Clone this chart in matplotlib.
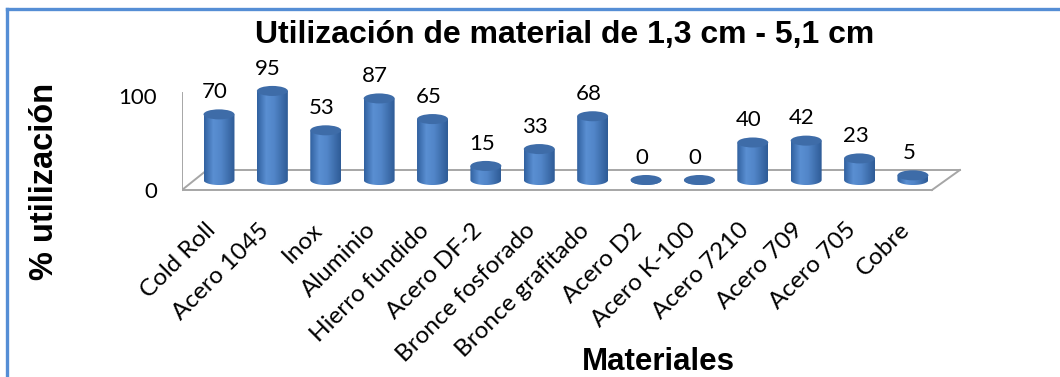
import matplotlib
matplotlib.use("Agg")
import numpy as np
import matplotlib.pyplot as plt
from matplotlib.patches import Ellipse, PathPatch
from matplotlib.path import Path
from matplotlib.colors import LinearSegmentedColormap
from matplotlib.lines import Line2D
import matplotlib.transforms as mtransforms

# ---- data -------------------------------------------------------------
materials = ["Cold Roll", "Acero 1045", "Inox", "Aluminio", "Hierro fundido",
             "Acero DF-2", "Bronce fosforado", "Bronce grafitado", "Acero D2",
             "Acero K-100", "Acero 7210", "Acero 709", "Acero 705", "Cobre"]
utilization = [70, 95, 53, 87, 65, 15, 33, 68, 0, 0, 40, 42, 23, 5]
y_tick_values = [0, 100]
y_tick_labels = ["0", "100"]

title = "Utilización de material de 1,3 cm - 5,1 cm"
x_title = "Materiales"
y_title = "% utilización"

# ---- styling / 3-D look ----------------------------------------------
W_PX, H_PX = 1060, 377
BAR_W = 0.58          # cylinder diameter (category units)
CAP_H = 10.7          # ellipse height of cylinder caps (value units)
DEPTH = 21.3          # floor depth in value units (vertical projection)
FLOOR_FRONT = (-0.693, 13.357)
FLOOR_BACK = (-0.225, 13.88)
GRID_GRAY = "#a6a6a6"
TOP_COLOR = "#3e6ca8"
body_cmap = LinearSegmentedColormap.from_list(
    "cyl", [(0.0, "#30609f"), (0.3, "#5a8fd2"), (0.55, "#5286c9"), (1.0, "#2e5b96")])

TEXT_FONT = ["Lato", "DejaVu Sans"]
BOLD_FONT = ["Liberation Sans", "DejaVu Sans"]
TEXT_SIZE = 16
CAT_SIZE = 17.5

fig = plt.figure(figsize=(W_PX / 100, H_PX / 100), dpi=100)
fig.patch.set_facecolor("white")

ax = fig.add_axes([182 / W_PX, 1 - 195 / H_PX, (993 - 182) / W_PX, 135 / H_PX])
ax.patch.set_visible(False)
for s in ax.spines.values():
    s.set_visible(False)

# floor outline and vertical axis line
fy, by = -DEPTH / 2, DEPTH / 2
ax.plot([FLOOR_FRONT[0], FLOOR_FRONT[1]], [fy, fy], color=GRID_GRAY, lw=1.4, zorder=1)
ax.plot([FLOOR_BACK[0], FLOOR_BACK[1]], [by, by], color=GRID_GRAY, lw=1.4, zorder=1)
ax.plot([FLOOR_FRONT[0], FLOOR_BACK[0]], [fy, by], color=GRID_GRAY, lw=1.4, zorder=1)
ax.plot([FLOOR_FRONT[1], FLOOR_BACK[1]], [fy, by], color=GRID_GRAY, lw=1.4, zorder=1)
ax.plot([FLOOR_FRONT[0], FLOOR_FRONT[0]], [fy, 100 - DEPTH / 2 + 3], color=GRID_GRAY,
        lw=1.4, zorder=1)

gradient = np.linspace(0, 1, 256).reshape(1, -1)
t = np.linspace(np.pi, 2 * np.pi, 60)

for i, v in enumerate(utilization):
    x = i
    # body outline: rectangle plus lower half of the base ellipse
    verts = [(x - BAR_W / 2, v)]
    verts += list(zip(x + BAR_W / 2 * np.cos(t), CAP_H / 2 * np.sin(t)))
    verts += [(x + BAR_W / 2, v), (x - BAR_W / 2, v)]
    codes = [Path.MOVETO] + [Path.LINETO] * (len(verts) - 2) + [Path.CLOSEPOLY]
    body = PathPatch(Path(verts, codes), facecolor="none", edgecolor="none", zorder=2)
    ax.add_patch(body)
    im = ax.imshow(gradient, extent=[x - BAR_W / 2, x + BAR_W / 2, -CAP_H / 2, max(v, 0.01)],
                   aspect="auto", cmap=body_cmap, zorder=2, interpolation="bilinear")
    im.set_clip_path(body)
    ax.add_patch(Ellipse((x, v), BAR_W, CAP_H, facecolor=TOP_COLOR, edgecolor="none",
                         zorder=3))
    ax.annotate(str(v), (x, v), xytext=(-3, 16), textcoords="offset points",
                ha="center", va="center", fontsize=TEXT_SIZE, family=TEXT_FONT, zorder=4)

ax.set_xlim(-0.693, 14.5)
ax.set_ylim(-16, 128)

ax.set_yticks([v - DEPTH / 2 for v in y_tick_values])
ax.set_yticklabels(y_tick_labels, fontsize=TEXT_SIZE, family=TEXT_FONT)
ax.tick_params(axis="y", length=0, pad=18)

ax.set_xticks(range(len(materials)))
ax.set_xticklabels(materials, fontsize=CAT_SIZE, family=TEXT_FONT)
ax.tick_params(axis="x", length=0, pad=20)
shift = mtransforms.ScaledTranslation(-7 / 100, -4 / 100, fig.dpi_scale_trans)
for lab in ax.get_xticklabels():
    lab.set_rotation(45)
    lab.set_ha("right")
    lab.set_va("center")
    lab.set_rotation_mode("anchor")
    lab.set_transform(lab.get_transform() + shift)

fig.text(565 / W_PX, 1 - 35 / H_PX, title, ha="center", va="center",
         fontsize=23, fontweight="bold", family=BOLD_FONT)
fig.text(45 / W_PX, 1 - 181 / H_PX, y_title, ha="center", va="center", rotation=90,
         fontsize=23.5, fontweight="bold", family=BOLD_FONT)
fig.text(658 / W_PX, 1 - 362 / H_PX, x_title, ha="center", va="center",
         fontsize=22.5, fontweight="bold", family=BOLD_FONT)

# chart frame (left and top edges)
BORDER = "#558ed5"
fig.add_artist(Line2D([7 / W_PX, 7 / W_PX], [0, 1 - 9 / H_PX], transform=fig.transFigure,
                      color=BORDER, lw=2.4, solid_capstyle="projecting"))
fig.add_artist(Line2D([7 / W_PX, 1], [1 - 9 / H_PX, 1 - 9 / H_PX], transform=fig.transFigure,
                      color=BORDER, lw=2.4, solid_capstyle="projecting"))

fig.savefig("out.png", dpi=100)
